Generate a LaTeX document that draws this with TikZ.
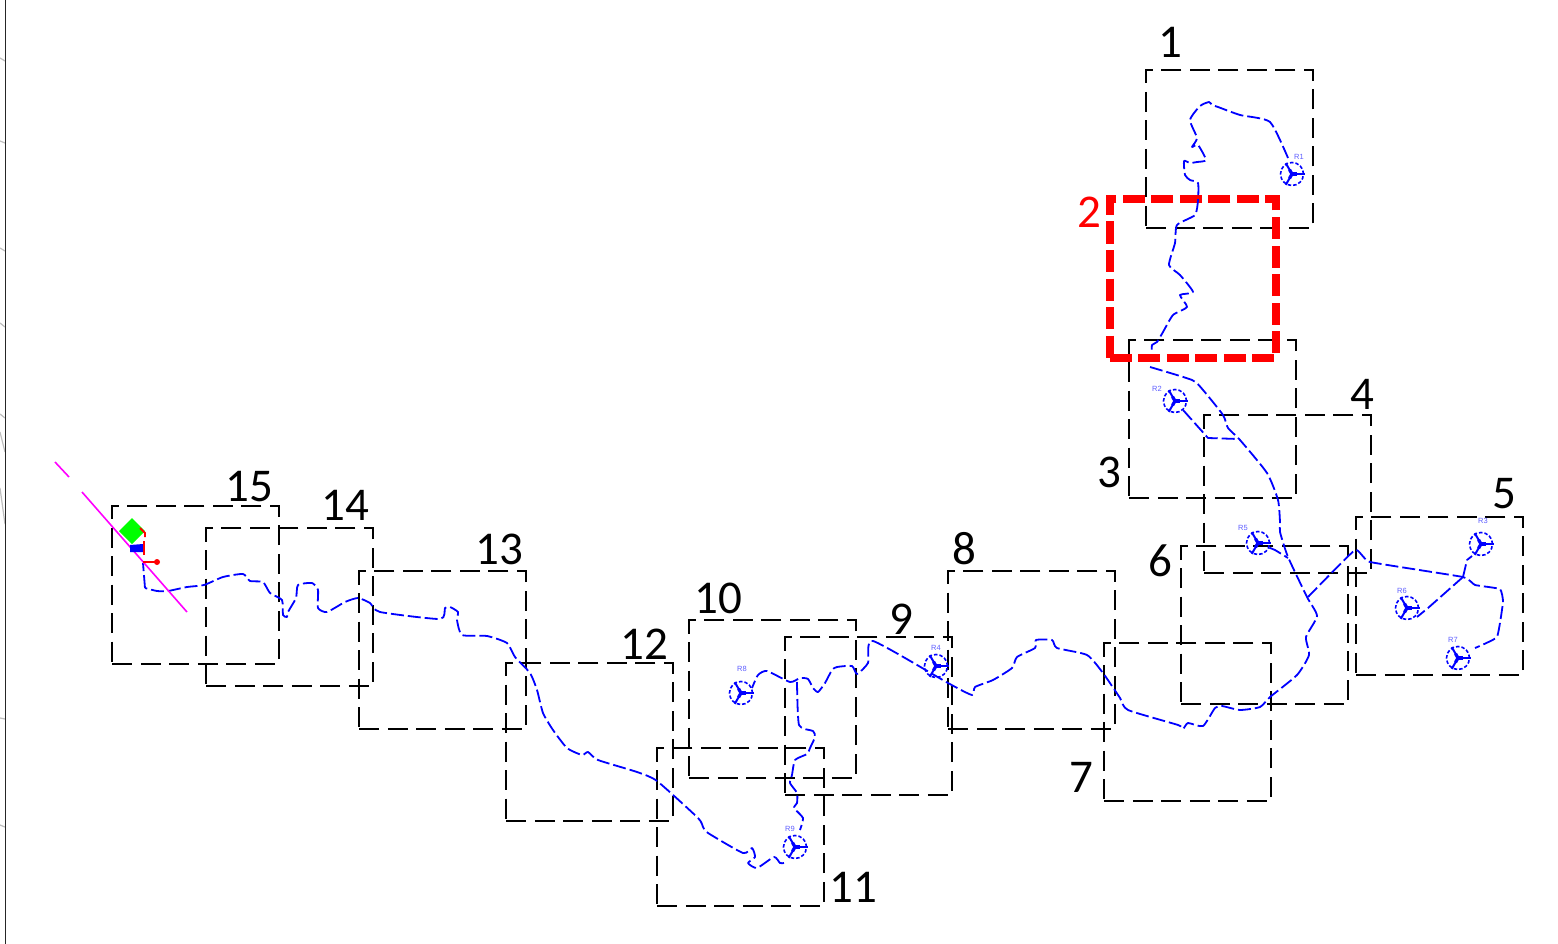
\documentclass[tikz,border=0pt]{standalone}
\usepackage{fontspec}
\setmainfont{Carlito}
\newfontfamily\cadfont{Liberation Sans}
\definecolor{routeblue}{RGB}{0,0,255}
\definecolor{marklightblue}{RGB}{95,95,255}
\definecolor{edgegray}{RGB}{190,190,190}
\definecolor{linemagenta}{RGB}{255,0,255}
\definecolor{padgreen}{RGB}{0,255,0}
\tikzset{
 sheetbox/.style={draw=black,line width=2pt,dash pattern=on 20pt off 8.5pt,minimum width=166.5pt,minimum height=158pt,inner sep=0pt,outer sep=0pt},
 redbox/.style={sheetbox,draw=red,line width=8pt,dash pattern=on 22pt off 6.5pt},
 sheetno/.style={font=\fontsize{47}{50}\selectfont,inner sep=0pt},
 cable/.style={draw=routeblue,line width=1.8pt,dash pattern=on 13pt off 4pt,line join=round},
 turbine/.style={circle,draw=routeblue,line width=1.6pt,dash pattern=on 3.5pt off 2pt,minimum size=23pt,inner sep=0pt},
 turbinetext/.style={text=marklightblue,font=\cadfont\fontsize{7.5}{8}\selectfont,inner sep=0pt}
}
\begin{document}
\begin{tikzpicture}[x=1pt,y=-1pt]
 \useasboundingbox (0,0) rectangle (1558,944);
 \fill[white] (0,0) rectangle (1558,944);
 % left border of the sheet
 \foreach \Y/\YY in {58/61,141/143,248/251,323/327,414/418,432/452,488/524,718/719,825/827}
 {\draw[edgegray,line width=1.2pt] (0,\Y) -- (5,\YY);}
 \draw[black!85,line width=1.5pt] (5.5,0) -- (5.5,944);
 %
 \foreach \Z/\X/\Y in {1/1229.5/149,3/1212.5/419,4/1287.5/494,5/1439.5/595.5,6/1264.5/625,7/1187.5/722,8/1031.5/649.5,9/868.5/716,10/772.5/699,11/740.5/827,12/589.5/741.5,13/442.5/650,14/289.5/607,15/195.5/584.5}
 {\node[sheetbox] (box\Z) at (\X,\Y) {};}
 \node[redbox] (box2) at (1193,278.5) {};
 %
 \foreach \Z/\X/\Y in {1/1170/42,3/1109/472,4/1362/394,5/1504/494,6/1160/561,7/1081/777,8/964/549,9/901/619,10/718/598,11/853/887,12/644/644,13/499/549,14/345/505,15/249/487}
 {\node[sheetno] (no\Z) at (\X,\Y) {\Z};}
 \node[sheetno,text=red] (no2) at (1089,212) {2};
 %
 \foreach \Z/\X/\Y/\LX/\LY in {1/1292/174/1299/157,2/1175/401/1157/389,3/1481/544/1483/521,4/936/666/936/648,5/1258/543/1243/528,6/1407/608/1402/591,7/1458/658/1453/640,8/741/693/742/669,9/795/847/790/829}
 {\node[turbine] (R\Z) at (\X,\Y) {};
 \foreach \A in {0,120,240}
 {\draw[routeblue,line width=2pt] (R\Z.center) -- ++(\A:12.5);
 \draw[routeblue,line width=3.2pt] (R\Z.center) -- ++(\A:5);}
 \node[turbinetext] (textR\Z) at (\LX,\LY) {R\Z};}
 %
 \draw[cable] plot[smooth,tension=0.35] coordinates {(1288,158) (1270,122) (1240,115) (1218,107) (1212,105) (1209,102) (1200,106) (1190,120) (1197,138) (1192,147) (1198,145) (1206,160) (1197,162) (1190,163) (1184,161) (1185,175) (1190,180) (1198,183) (1198,200) (1195,215) (1177,225) (1175,243) (1169,265) (1180,275) (1193,292) (1180,295) (1187,307) (1173,315) (1163,332) (1157,342) (1152,345) (1152,353)};
 \draw[cable] plot[smooth,tension=0.35] coordinates {(1150,367) (1192,380) (1203,390) (1223,415) (1228,428) (1240,440) (1267,473) (1278,500) (1280,522) (1280,532) (1288,557) (1307,597) (1317,616) (1306,637) (1309,655) (1297,675) (1270,697) (1260,707) (1240,710) (1222,706) (1215,708) (1203,726) (1188,723) (1183,729) (1178,725) (1128,710) (1120,698) (1103,673) (1087,655) (1057,648) (1052,640) (1036,640) (1035,648) (1017,657) (1012,668) (993,680) (975,687) (972,695) (948,683) (873,641) (868,663) (857,674) (852,666) (837,667) (832,670) (825,683) (818,692) (813,688) (808,679) (800,678) (790,682) (767,671) (758,675) (752,688)};
 \draw[cable] plot[smooth,tension=0.35] coordinates {(797,682) (799,725) (813,731) (815,737) (810,748) (807,754) (795,760) (792,775) (790,783) (797,793) (797,803) (794,808) (803,818) (800,830)};
 \draw[cable] plot[smooth,tension=0.35] coordinates {(784,863) (780,863) (774,857) (757,868) (748,863) (755,857) (752,848) (743,853) (708,833) (703,827) (698,818) (657,781) (637,772) (598,760) (588,752) (582,755) (567,748) (553,730) (543,713) (537,690) (530,673) (515,657) (507,643) (487,636) (462,635) (457,620) (458,612) (450,607) (445,608) (440,619) (380,612) (370,603) (358,598) (345,602) (327,612) (318,608) (318,590) (312,583) (298,585) (296,598) (288,612) (287,617) (283,615) (282,600) (270,593) (263,582) (250,581) (243,574) (223,577) (204,585) (187,587) (168,591) (157,591) (145,588)};
 \draw[cable] (145,588) -- (143,563);
 \draw[cable] (R5) -- (1275,550) -- (1288,558);
 \draw[cable] (R2) -- (1208,438) -- (1238,439);
 \draw[cable] plot[smooth,tension=0.2] coordinates {(1308,597) (1355,550) (1370,562) (1463,577) (1475,585) (1500,589) (1503,602) (1497,637) (1475,648)};
 \draw[cable] (1463,577) -- (1467,560) -- (1472,556);
 \draw[cable] (1463,577) -- (1428,608) -- (1417,617);
 %
 \draw[linemagenta,line width=1.6pt] (55,462) -- (69,477);
 \draw[linemagenta,line width=1.6pt] (82,492) -- (187,612);
 \fill[padgreen] (132,518) -- (145,531) -- (132,544) -- (119,531) -- cycle;
 \fill[blue] (130,545) -- (143,544) -- (143,552) -- (130,552) -- cycle;
 \draw[red,line width=1.8pt] (140,528) -- (145,533) -- (145,537);
 \draw[red,line width=1.8pt] (144,541) -- (144,555);
 \draw[red,line width=1.8pt] (143,562) -- (158,562);
 \fill[red] (157,562) circle[radius=3];
\end{tikzpicture}
\end{document}
